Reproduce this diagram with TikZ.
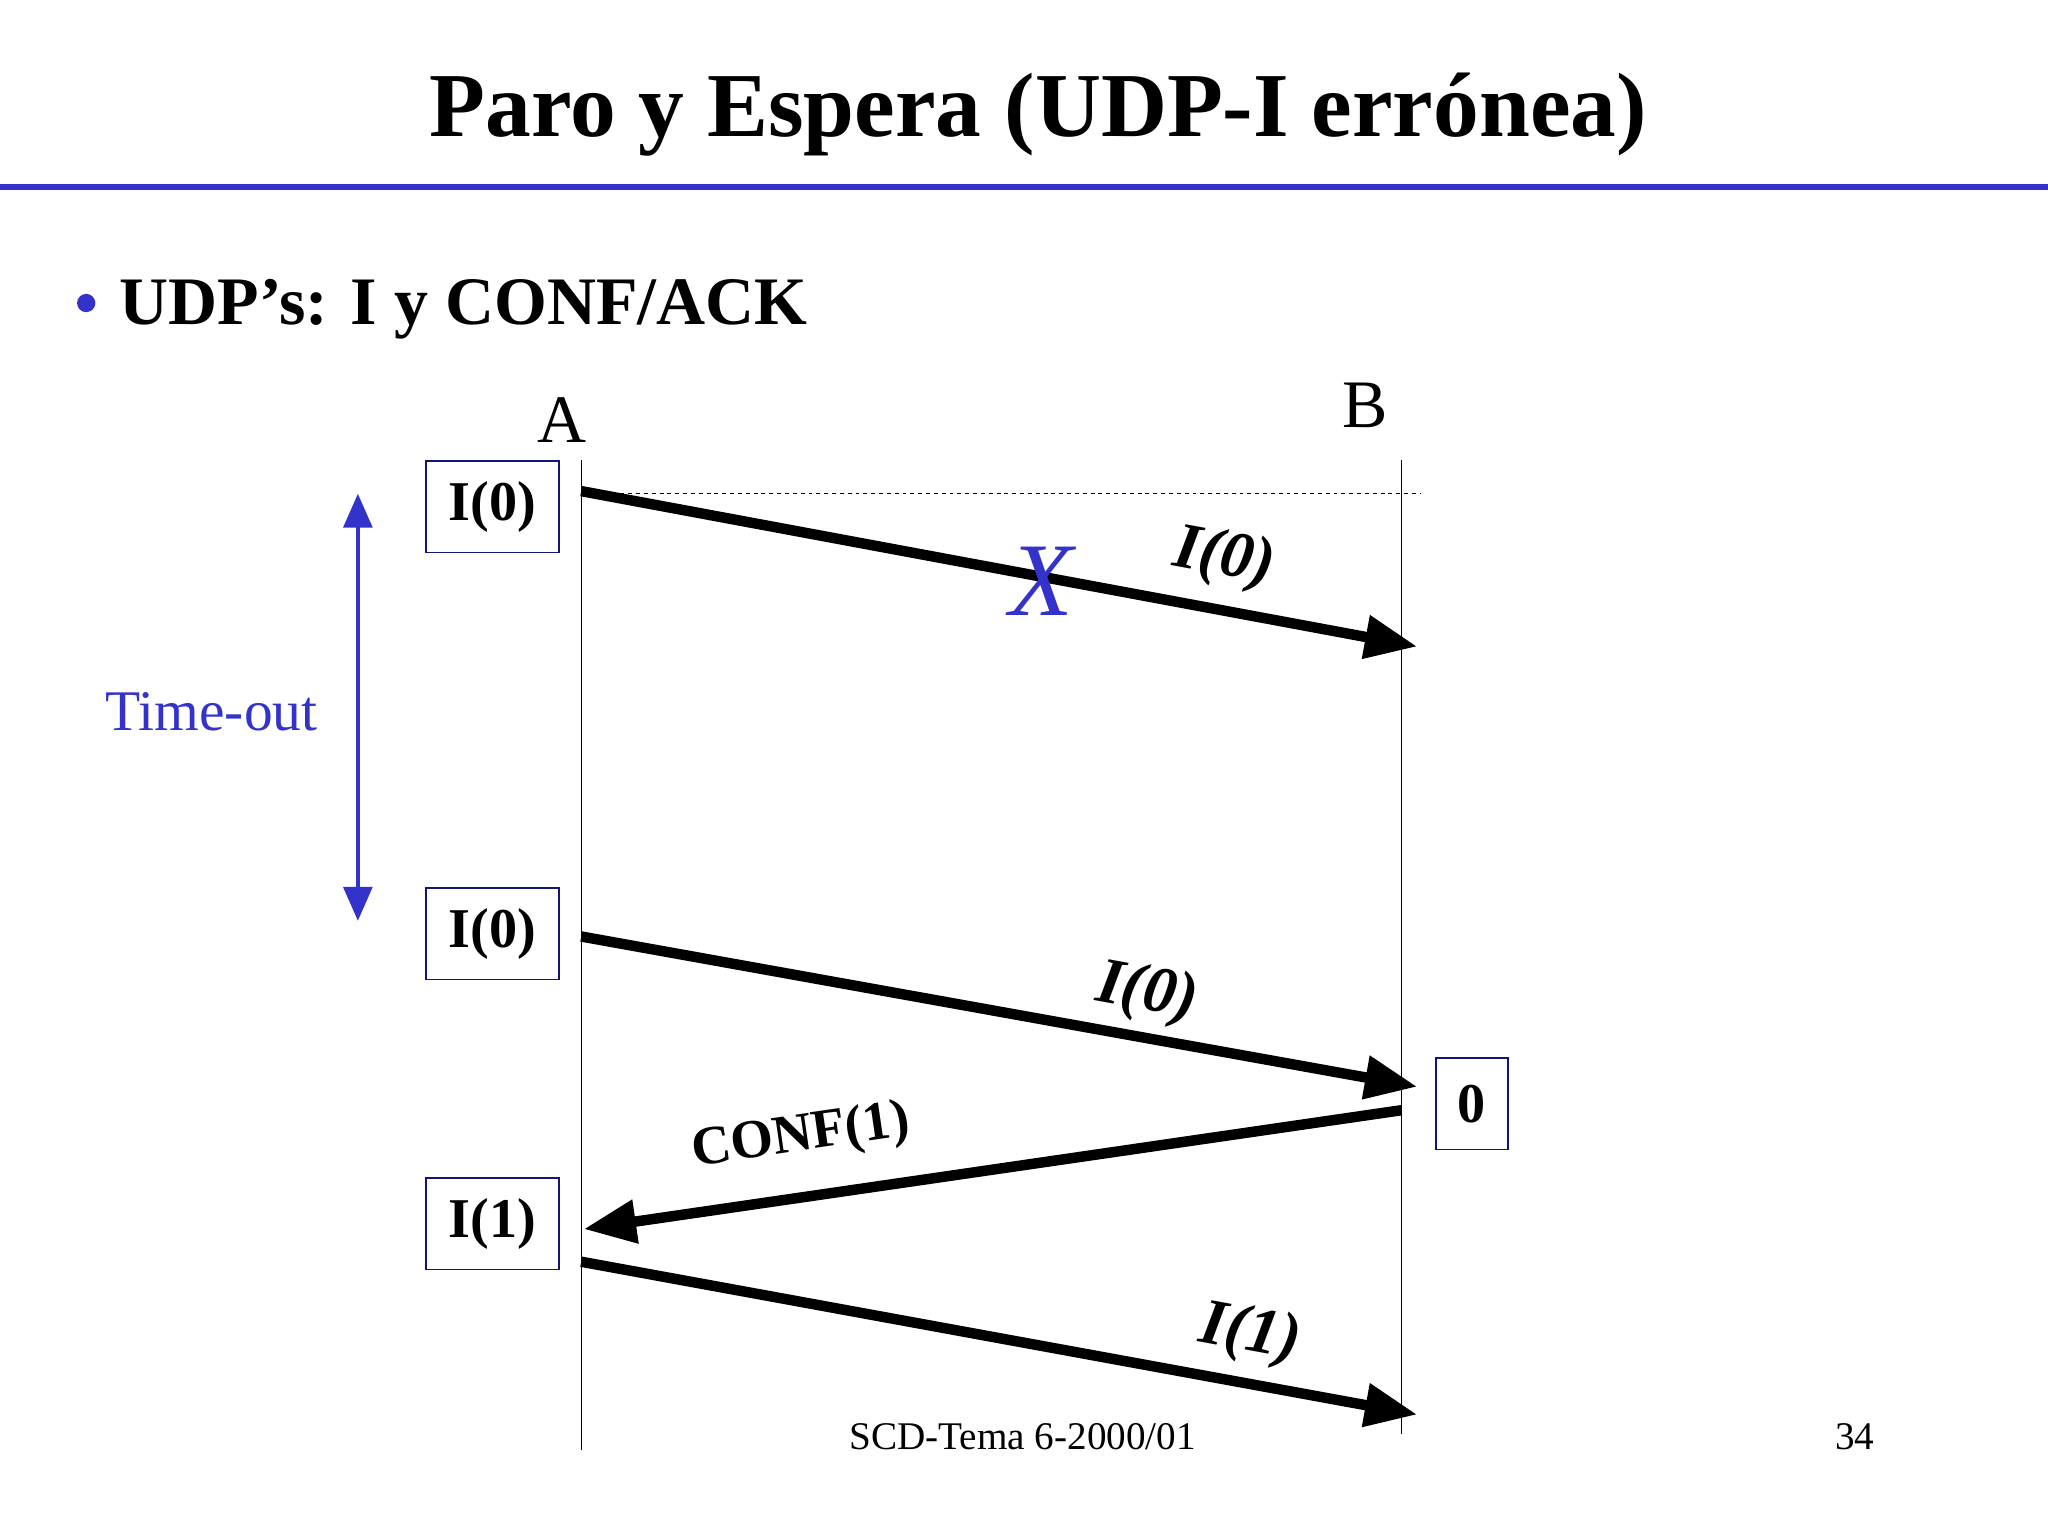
\documentclass[tikz,border=0pt]{standalone}
\usepackage{fontspec}
\setmainfont{Liberation Serif}
\usetikzlibrary{arrows.meta}
\definecolor{myblue}{RGB}{51,51,204}
\definecolor{boxblue}{RGB}{20,20,120}
\begin{document}
\begin{tikzpicture}[x=1pt,y=-1pt,
  fbox/.style={draw=boxblue,line width=1.3pt,minimum width=102pt,minimum height=70pt,font=\fontsize{43}{46}\selectfont\bfseries,inner sep=0pt},
  msg/.style={line width=8pt,-{Triangle[length=40pt,width=32pt]}},
  lab/.style={font=\fontsize{50}{54}\selectfont\bfseries\itshape,inner sep=0pt}]
\useasboundingbox (0,0) rectangle (1568,1174);
\node (title) at (795,88) {\fontsize{70}{74}\selectfont\bfseries Paro y Espera (UDP-I errónea)};
\draw[myblue,line width=5pt] (0,143) -- (1568,143);
\node[circle,fill=myblue,inner sep=0pt,minimum size=14pt] (bul) at (66,232) {};
\node[anchor=west] (sub) at (88,237) {\fontsize{52}{56}\selectfont\bfseries UDP’s: I y CONF/ACK};
\node (A) at (430,322) {\fontsize{52}{56}\selectfont A};
\node (B) at (1045,310) {\fontsize{52}{56}\selectfont B};
\coordinate (a0) at (445,352); \coordinate (a1) at (445,1110);
\coordinate (b0) at (1073,352); \coordinate (b1) at (1073,1098);
\draw[line width=1pt] (a0) -- (a1);
\draw[line width=1pt] (b0) -- (b1);
\coordinate (d0) at (445,378); \coordinate (d1) at (1088,378);
\draw[dashed,line width=0.8pt] (d0) -- (d1);
\node[fbox] (i0a) at (377,388) {I(0)};
\node[fbox] (i0b) at (377,715) {I(0)};
\node[fbox] (i1) at (377,937) {I(1)};
\node[fbox,minimum width=55pt] (z) at (1127,845) {0};
\coordinate (s1) at (445,376); \coordinate (e1) at (1085,495);
\coordinate (s2) at (445,717); \coordinate (e2) at (1085,832);
\coordinate (s3) at (1073,850); \coordinate (e3) at (447,941);
\coordinate (s4) at (445,966); \coordinate (e4) at (1085,1083);
\draw[msg] (s1) -- (e1);
\draw[msg] (s2) -- (e2);
\draw[msg] (s3) -- (e3);
\draw[msg] (s4) -- (e4);
\node[lab,rotate=-10.5] (l1) at (937,428) {I(0)};
\node[lab,rotate=-10.5] (l2) at (878,761) {I(0)};
\node[rotate=8.3,inner sep=0pt,font=\fontsize{42}{46}\selectfont\bfseries] (l3) at (613,871) {CONF(1)};
\node[lab,rotate=-10.5] (l4) at (957,1022) {I(1)};
\node[text=myblue,font=\fontsize{80}{84}\selectfont\itshape] (x) at (797,445) {X};
\node[text=myblue,font=\fontsize{44}{48}\selectfont] (to) at (162,545) {Time-out};
\coordinate (t0) at (274,378); \coordinate (t1) at (274,705);
\draw[myblue,line width=3pt,{Triangle[length=26pt,width=22pt]}-{Triangle[length=26pt,width=22pt]}] (t0) -- (t1);
\node (foot) at (783,1100) {\fontsize{30}{34}\selectfont SCD-Tema 6-2000/01};
\node (pg) at (1420,1100) {\fontsize{30}{34}\selectfont 34};
\end{tikzpicture}
\end{document}
